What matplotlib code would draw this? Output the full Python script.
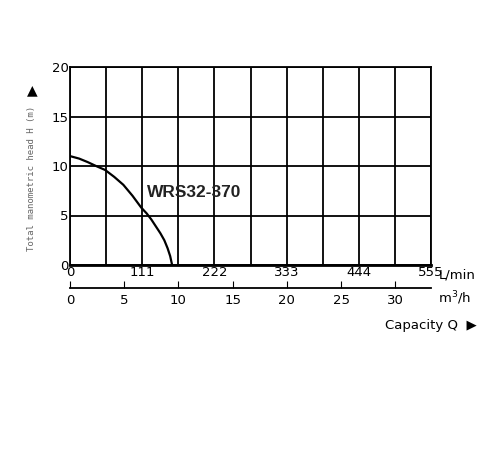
import matplotlib
matplotlib.use("Agg")
import matplotlib.pyplot as plt
import numpy as np

q_lmin = [0, 14, 27, 40, 54, 68, 82, 96, 109.5, 118, 125, 132, 139, 145, 150, 154, 157]
head_m = [11.0, 10.75, 10.4, 10.0, 9.6, 8.9, 8.1, 7.0, 5.8, 5.2, 4.6, 3.9, 3.2, 2.5, 1.7, 0.9, 0.0]
lmin_ticks = [0, 111, 222, 333, 444, 555]
m3h_ticks = [0, 5, 10, 15, 20, 25, 30]
y_ticks = [0, 5, 10, 15, 20]
model = "WRS32-370"

W, H = 500, 450
fig = plt.figure(figsize=(5, 4.5), dpi=100)

def box(x0, y0, x1, y1):
    return [x0 / W, 1 - y1 / H, (x1 - x0) / W, (y1 - y0) / H]

ax = fig.add_axes(box(70, 67, 431, 265))
ax.set_xlim(0, 555)
ax.set_ylim(0, 20)
ax.set_xticks(lmin_ticks)
ax.set_xticks(np.linspace(0, 555, 11), minor=True)
ax.set_yticks(y_ticks)
ax.grid(True, which="both", color="black", lw=1.3)
ax.set_xticklabels([str(t) for t in lmin_ticks], fontsize=9.5)
ax.set_yticklabels([str(t) for t in y_ticks], fontsize=9.5)
ax.tick_params(which="both", length=0, pad=1)
for s in ax.spines.values():
    s.set_linewidth(1.3)
ax.spines["bottom"].set_linewidth(2)
ax.plot(q_lmin, head_m, color="black", lw=1.6, zorder=5)
ax.text(118, 7.3, model, fontsize=12.5, fontweight="bold", zorder=6,
        family="Liberation Sans", color="#222222", va="center")
fig.text(439 / W, 1 - 275 / H, "L/min", fontsize=9.5, va="center")

ax2 = fig.add_axes(box(70, 287, 431, 288))
ax2.set_xlim(0, 555 / 1000 * 60)
ax2.set_ylim(0, 1)
for k in ["left", "right", "top"]:
    ax2.spines[k].set_visible(False)
ax2.spines["bottom"].set_linewidth(1.3)
ax2.set_yticks([])
ax2.set_xticks(m3h_ticks)
ax2.set_xticklabels([str(t) for t in m3h_ticks], fontsize=9.5)
ax2.tick_params(axis="x", direction="in", length=5, pad=4)
ax2.patch.set_alpha(0)
fig.text(438 / W, 1 - 298 / H, "m$^3$/h", fontsize=9.5, va="center")
fig.text(385 / W, 1 - 325 / H, "Capacity Q  \u25B6", fontsize=9.5, va="center")

fig.text(32 / W, 1 - 178 / H, "Total manometric head H (m)", rotation=90,
         family="DejaVu Sans Mono", fontsize=6.5, color="#666666", ha="center", va="center")
fig.text(32 / W, 1 - 90 / H, "\u25B2", fontsize=10, ha="center", va="center")

fig.savefig("out.png", dpi=100)
